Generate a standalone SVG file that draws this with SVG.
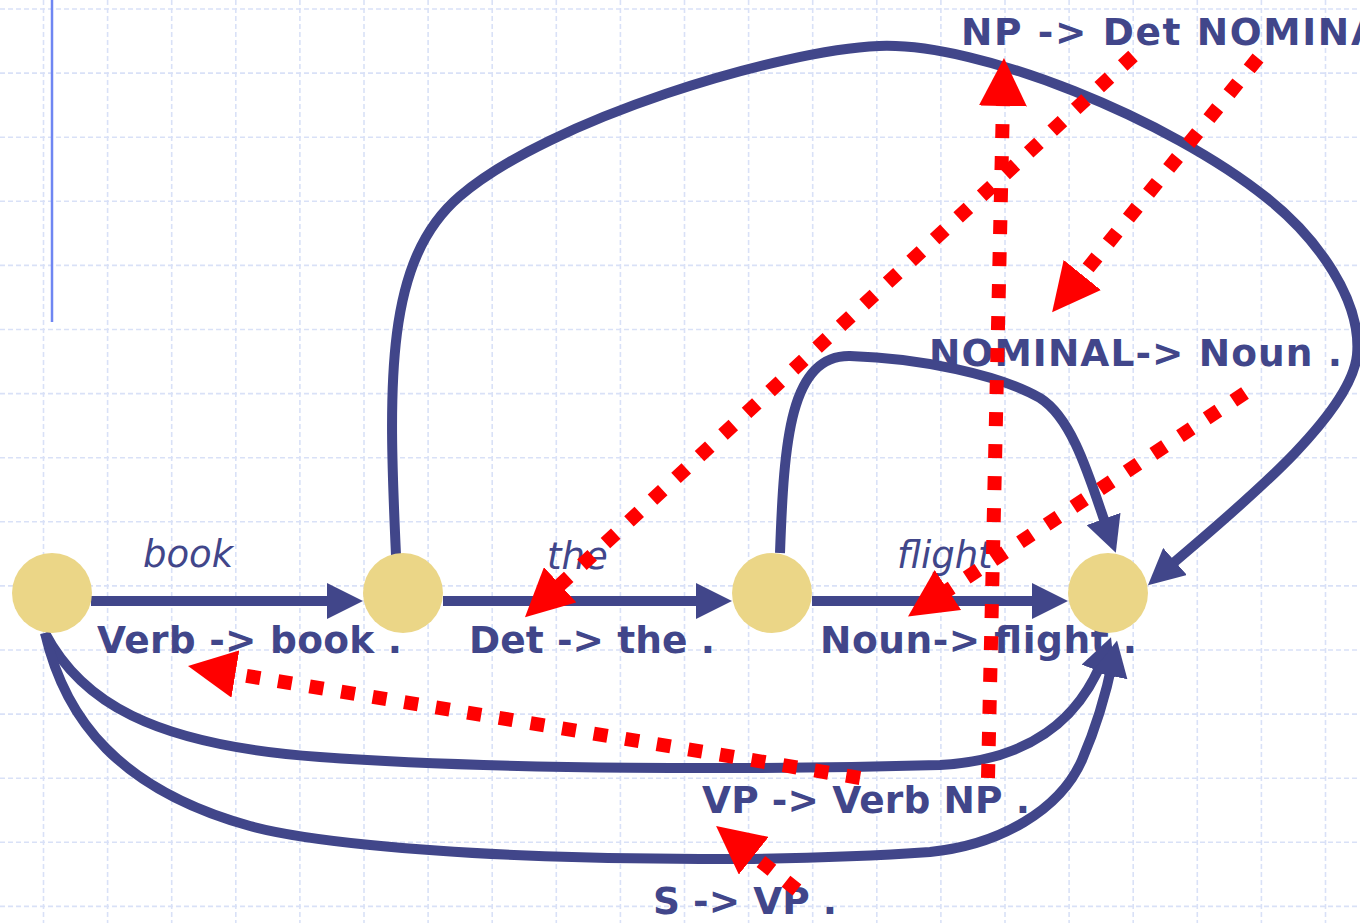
<svg xmlns="http://www.w3.org/2000/svg" width="1360" height="923" viewBox="0 0 1360 923">
<style>
.grid{fill:none;stroke:#d9e1f7;stroke-width:1.6;stroke-dasharray:5 3}
.blue{fill:none;stroke:#41468A;stroke-width:10;marker-end:url(#ba)}
.red{fill:none;stroke:#FF0000;stroke-width:14;stroke-dasharray:14 18;marker-end:url(#ra)}
.node{fill:#EBD687}
.lbl{font-family:"DejaVu Sans",Verdana,sans-serif;font-weight:bold;font-size:37.5px;fill:#41468A}
.word{font-family:"DejaVu Sans",Verdana,sans-serif;font-style:italic;font-size:37px;fill:#41468A}
</style>
<defs>
<marker id="ba" markerUnits="userSpaceOnUse" viewBox="0 0 36 36" markerWidth="36" markerHeight="36" refX="16" refY="18" orient="auto">
<path d="M0,0 L36,18 L0,36 z" fill="#41468A"/>
</marker>
<marker id="ra" markerUnits="userSpaceOnUse" viewBox="0 0 48 48" markerWidth="48" markerHeight="48" refX="18" refY="24" orient="auto">
<path d="M0,0 L48,24 L0,48 z" fill="#FF0000"/>
</marker>
</defs>
<rect width="1360" height="923" fill="#ffffff"/>
<g id="grid">
<path class="grid" d="M43.5,0V923 M107.6,0V923 M171.7,0V923 M235.8,0V923 M299.9,0V923 M364,0V923 M428.1,0V923 M492.2,0V923 M556.3,0V923 M620.4,0V923 M684.5,0V923 M748.6,0V923 M812.7,0V923 M876.8,0V923 M940.9,0V923 M1005,0V923 M1069.1,0V923 M1133.2,0V923 M1197.3,0V923 M1261.4,0V923 M1325.5,0V923"/>
<path class="grid" d="M0,9H1360 M0,73.1H1360 M0,137.2H1360 M0,201.3H1360 M0,265.4H1360 M0,329.5H1360 M0,393.6H1360 M0,457.7H1360 M0,521.8H1360 M0,585.9H1360 M0,650H1360 M0,714.1H1360 M0,778.2H1360 M0,842.3H1360 M0,906.4H1360"/>
</g>
<line x1="52" y1="0" x2="52" y2="322" stroke="#6F86F2" stroke-width="2.5"/>
<g id="labels">
<text class="word" x="143" y="567">book</text>
<text class="word" x="547" y="569">the</text>
<text class="word" x="897" y="568">flight</text>
<text class="lbl" x="97" y="653" textLength="305" lengthAdjust="spacing">Verb -&gt; book .</text>
<text class="lbl" x="469" y="653" textLength="246" lengthAdjust="spacing">Det -&gt; the .</text>
<text class="lbl" x="820" y="653" textLength="317" lengthAdjust="spacing">Noun-&gt; flight .</text>
<text class="lbl" x="929" y="366" textLength="413" lengthAdjust="spacing">NOMINAL-&gt; Noun .</text>
<text class="lbl" x="961" y="45" textLength="475" lengthAdjust="spacing">NP -&gt; Det NOMINAL .</text>
<text class="lbl" x="702" y="813" textLength="328" lengthAdjust="spacing">VP -&gt; Verb NP .</text>
<text class="lbl" x="653" y="914" textLength="184" lengthAdjust="spacing">S -&gt; VP .</text>
</g>
<g id="connectors">
<path class="blue" d="M91,601 L343,601"/>
<path class="blue" d="M443,601 L712,601"/>
<path class="blue" d="M812,601 L1048,601"/>
<path class="blue" d="M396,555 C388,380 385,260 460,196 C550,119 780,50 879,46 C980,42 1170,120 1267,198 C1317,238 1362,300 1357,355 C1350,420 1223,519.5 1163,572"/>
<path class="blue" d="M780,553 C784,440 790,355 850,356 C920,358 1000,375 1040,398 C1075,420 1092,487 1109,534"/>
<path class="blue" d="M45,633 C80,700 150,745 320,757 C500,770 760,770 940,765 C1030,760 1080,720 1104,656"/>
<path class="blue" d="M45,633 C65,720 120,790 250,826 C360,856 700,868 930,852 C1000,845 1060,810 1082,760 C1095,730 1105,699 1113,660"/>
</g>
<g id="n0"><circle class="node" cx="52" cy="593" r="40"/></g>
<g id="n1"><circle class="node" cx="403" cy="593" r="40"/></g>
<g id="n2"><circle class="node" cx="772" cy="593" r="40"/></g>
<g id="n3"><circle class="node" cx="1108" cy="593" r="40"/></g>
<g id="dotted-connectors">
<path class="red" d="M1133,56 L547,597"/>
<path class="red" d="M1258,58 L1071,289"/>
<path class="red" d="M1245,393 L933,600"/>
<path class="red" d="M988,778 L1003.3,88"/>
<path class="red" d="M860,778 L217.6,671"/>
<path class="red" d="M797,890 L739.6,844.6"/>
</g>
</svg>
